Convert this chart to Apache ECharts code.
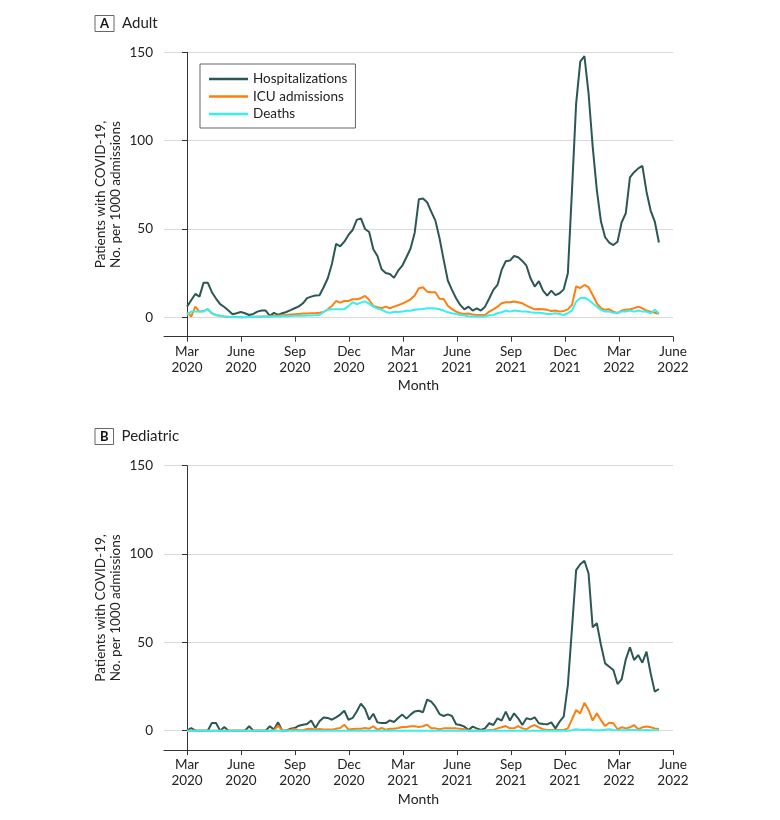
<!DOCTYPE html>
<html><head><meta charset="utf-8">
<script src="https://cdn.jsdelivr.net/npm/echarts@6/dist/echarts.min.js"></script>
<style>html,body{margin:0;padding:0;background:#fff}#c{width:780px;height:820px}</style>
</head><body><div id="c"></div>
<script>
// Weekly values; week 0 = first week of March 2020. x = months since 1 Mar 2020.
const tickMonths = [0, 3, 6, 9, 12, 15, 18, 21, 24, 27];
const tickLabels = ['Mar\n2020', 'June\n2020', 'Sep\n2020', 'Dec\n2020', 'Mar\n2021', 'June\n2021', 'Sep\n2021', 'Dec\n2021', 'Mar\n2022', 'June\n2022'];
const yTicks = [0, 50, 100, 150];
const seriesNames = ['Hospitalizations', 'ICU admissions', 'Deaths'];

const adultHosp = [6.0,9.6,13.2,11.7,19.6,19.6,14.2,10.6,7.4,5.8,3.8,1.7,2.3,3.0,2.3,1.3,1.9,3.2,3.8,3.8,
  0.8,2.5,1.3,2.3,3.0,4.0,5.1,6.2,7.9,10.8,11.7,12.3,12.5,17.0,22.1,30.2,41.5,40.2,42.8,46.6,
  49.4,55.1,56.0,50.0,48.3,38.5,34.7,27.2,25.1,24.5,22.3,26.4,29.2,34.0,38.9,47.9,66.8,67.2,65.1,59.8,
  54.7,44.7,32.5,20.8,15.5,10.8,7.0,4.5,6.0,3.8,5.1,3.8,6.0,10.6,15.5,18.3,26.8,31.7,32.1,34.7,
  34.0,31.9,29.2,21.9,17.4,20.4,15.1,12.3,15.1,12.5,13.6,15.8,24.9,72.0,121.0,144.7,147.9,126.8,96.6,72.0,
  54.2,45.3,42.3,40.9,42.8,53.8,58.9,79.2,82.1,84.3,85.7,71.1,60.4,54.2,42.3];
const adultIcu = [2.8,0.4,6.0,3.2,3.6,4.5,2.3,1.3,0.8,0.4,0.2,0.2,0.1,0.0,0.0,0.2,0.3,0.3,0.4,0.5,
  0.5,0.8,0.8,1.1,1.3,1.5,1.7,1.9,2.1,2.1,2.3,2.3,2.5,3.0,4.5,6.4,9.2,8.3,9.2,9.2,
  10.2,10.2,10.8,12.1,9.8,6.4,5.7,5.1,6.0,5.1,6.0,6.8,7.7,8.9,10.2,12.3,16.4,17.0,14.5,14.2,
  14.2,10.5,10.3,6.5,4.6,3.2,2.3,1.9,2.1,1.5,1.3,1.3,1.3,3.2,4.5,6.0,7.9,8.5,8.5,8.9,
  8.5,7.9,6.6,5.5,4.5,4.7,4.5,4.2,3.6,3.8,3.2,3.6,4.5,7.0,17.4,16.6,18.3,17.0,12.6,7.9,
  5.1,4.2,4.5,3.2,2.3,3.8,4.2,4.5,5.1,6.0,5.1,3.8,3.2,2.6,1.9];
const adultDeaths = [1.3,3.2,3.2,3.2,3.2,4.7,2.3,1.1,0.8,0.5,0.3,0.0,0.0,0.0,0.2,0.2,0.3,0.3,0.3,0.4,
  0.4,0.5,0.5,0.6,0.6,0.7,0.8,0.8,0.9,1.0,1.0,1.1,1.3,3.0,4.3,4.5,4.5,4.5,4.6,6.3,
  8.5,7.4,8.3,9.0,7.7,6.0,4.9,4.3,3.0,2.5,3.0,3.0,3.2,3.7,3.7,4.2,4.5,4.7,5.1,5.1,
  5.0,4.5,3.8,2.8,2.3,1.9,1.3,1.0,0.6,0.4,0.4,0.4,0.4,1.1,1.3,2.3,2.8,3.8,3.2,3.8,
  3.6,3.2,3.2,2.8,2.6,2.6,2.3,1.9,1.9,2.3,1.9,1.3,2.3,3.8,8.9,10.8,11.1,9.8,7.9,6.0,
  4.2,3.2,3.2,2.6,2.6,3.2,3.2,3.8,3.2,3.8,3.2,3.2,2.3,4.2,2.3];

const pedHosp = [0,1.5,0,0,0,0,4.3,4.3,0,2.1,0,0,0,0,0,2.5,0,0,0,0,
  2.5,0.6,4.7,0,0,1.1,1.5,2.8,3.4,3.8,5.8,1.5,5.3,7.5,7.2,6.2,7.5,9.1,11.3,6.2,
  7.2,10.9,15.3,12.3,6.2,9.6,4.7,4.3,4.3,5.8,4.9,7.2,9.1,6.8,9.1,10.9,11.3,10.4,17.6,16.4,
  13.6,9.4,8.3,9.2,8.3,3.6,3.2,2.3,0.4,2.3,1.3,0.4,1.3,4.2,3.2,7.0,5.7,10.8,5.7,9.8,
  7.0,3.2,7.0,6.4,7.5,4.2,3.8,3.6,4.7,1.3,5.1,7.9,25.8,58.0,90.9,94.2,96.2,89.0,58.5,60.8,
  48.5,38.1,36.2,34.3,26.4,29.1,40.4,47.2,40.0,42.8,38.5,44.7,32.5,22.1,23.6];
const pedIcu = [0,0,0,0,0,0,0,0,0,0,0,0,0,0,0,0,0,0,0,0,
  0,0.3,2.8,0.2,0,0.5,0.9,0.2,0.2,0.9,1.1,0.6,0.9,0.6,0.6,0.6,1.1,1.5,3.4,0.6,
  0.9,1.1,1.1,1.5,1.1,2.5,0.6,1.5,0.6,1.1,1.1,1.5,2.1,2.1,2.5,2.5,2.1,2.5,3.4,1.3,
  1.3,0.8,1.3,1.3,1.3,1.3,1.1,0.8,0,0,0,0,0,0.4,0.4,1.3,1.9,2.6,1.3,1.3,
  2.6,1.3,0.8,2.3,3.2,1.9,0.8,0.4,0.4,0.4,0.4,0.4,1.3,6.4,11.7,9.8,15.8,11.7,5.7,9.8,
  6.0,2.6,4.5,4.2,0.8,1.9,1.3,1.9,3.2,0.8,1.9,2.3,1.9,1.3,0.9];
const pedDeaths = [0,0,0,0,0,0,0,0,0,0,0,0,0,0,0,0,0,0,0,0,
  0,0,0,0,0,0,0,0,0,0,0,0,0,0,0,0,0,0,0,0,
  0,0,0,0,0,0,0,0,0,0,0,0,0,0,0,0,0,0,0,0,
  0,0,0,0,0,0,0,0,0,0,0,0,0,0,0,0,0,0,0,0,
  0,0,0,0,0,0,0,0,0,0,0,0,0,0.3,0.8,0.5,0.4,0.6,0.3,0.2,
  0.3,0.5,0.8,0.4,0.2,0.2,0.3,0.5,0.4,0.2,0.3,0.4,0.3,0.2,0.2];

const colors = ['#2b5754', '#ff7f0e', '#36f0f0'];
const FONT = 'Lato';
const weekToMonth = i => i * 7 / 30.4375;
const pairs = arr => arr.map((v, i) => [weekToMonth(i), v]);

function xAxis(gi) {
  return {
    type: 'value', gridIndex: gi, min: -1.28, max: 27,
    name: 'Month', nameLocation: 'middle', nameGap: 42,
    nameTextStyle: { fontFamily: FONT, fontSize: 14, color: '#222' },
    axisLine: { show: true, onZero: false, lineStyle: { color: '#333', width: 1 } },
    axisTick: { show: true, length: 5, customValues: tickMonths, lineStyle: { color: '#333' } },
    axisLabel: { customValues: tickMonths, margin: 7, fontFamily: FONT, fontSize: 13.5, lineHeight: 16, color: '#222',
      formatter: v => tickLabels[tickMonths.indexOf(Math.round(v))] || '' },
    splitLine: { show: false }
  };
}
function yAxis(gi) {
  return {
    type: 'value', gridIndex: gi, min: -11, max: 150,
    name: 'Patients with COVID-19,\nNo. per 1000 admissions', nameLocation: 'middle', nameGap: 41,
    nameMoveOverlap: false,
    nameTextStyle: { fontFamily: FONT, fontSize: 13.5, lineHeight: 15, color: '#222' },
    axisLine: { show: true, lineStyle: { color: '#333', width: 1 } },
    axisTick: { show: true, length: 5, customValues: yTicks, lineStyle: { color: '#333' } },
    axisLabel: { customValues: yTicks, margin: 11, fontFamily: FONT, fontSize: 13.5, color: '#222' },
    splitLine: { show: true, lineStyle: { color: '#d9d9d9', width: 1 } }
  };
}
const panels = [[adultHosp, adultIcu, adultDeaths], [pedHosp, pedIcu, pedDeaths]];
const series = [];
panels.forEach((p, gi) => p.forEach((arr, k) => series.push({
  type: 'line', name: seriesNames[k], xAxisIndex: gi, yAxisIndex: gi,
  data: pairs(arr), showSymbol: false, symbol: 'none', silent: true,
  lineStyle: { color: colors[k], width: 2 }, itemStyle: { color: colors[k] }, z: 2 + k
})));

function title(letter, text, top) {
  return {
    left: 95, top: top, padding: 0,
    text: '{b|' + letter + '}{t|' + text + '}',
    textStyle: { fontWeight: 'normal', rich: {
      b: { fontFamily: FONT, fontWeight: 'bold', fontSize: 13, color: '#111', borderColor: '#666', borderWidth: 1, padding: [2, 5, 1, 5], lineHeight: 14 },
      t: { fontFamily: FONT, fontWeight: 'normal', fontSize: 15, color: '#222', padding: [0, 0, 0, 8] }
    } }
  };
}

const chart = echarts.init(document.getElementById('c'), null, { renderer: 'canvas' });
chart.setOption({
  animation: false,
  backgroundColor: '#fff',
  color: colors,
  title: [title('A', 'Adult', 16), title('B', 'Pediatric', 429)],
  legend: {
    data: seriesNames, orient: 'vertical', left: 200, top: 64,
    icon: 'rect', itemWidth: 39, itemHeight: 2.5, itemGap: 3.5,
    padding: [8, 8, 7, 9], borderColor: '#666', borderWidth: 1, backgroundColor: '#fff',
    textStyle: { fontFamily: FONT, fontSize: 13.5, lineHeight: 14, color: '#222' },
    selectedMode: false
  },
  grid: [
    { left: 164, width: 509, top: 52.3, height: 284.4, containLabel: false },
    { left: 164, width: 509, top: 465.7, height: 284.4, containLabel: false }
  ],
  xAxis: [xAxis(0), xAxis(1)],
  yAxis: [yAxis(0), yAxis(1)],
  series: series
});
</script></body></html>
